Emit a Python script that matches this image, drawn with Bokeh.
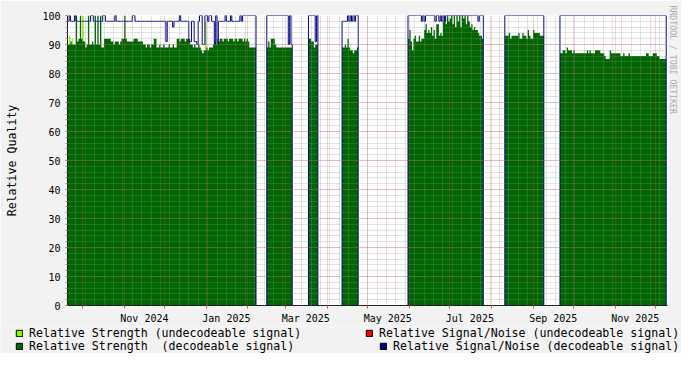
import numpy as np
import pandas as pd
from bokeh.plotting import figure
from bokeh.layouts import column
from bokeh.models import (Range1d, FixedTicker, Legend, LegendItem, Title)
from bokeh.embed import file_html
from bokeh.resources import INLINE

# ---------------- data (daily values) ----------------
SEGMENT_STARTS = ["2024-09-20", "2025-02-15", "2025-03-18", "2025-04-12",
                  "2025-05-31", "2025-08-11", "2025-09-21"]

STRENGTH_1 = [90, 90, 91, 90, 90, 90, 100, 91, 92, 100,
              92, 91, 91, 89, 90, 100, 90, 90, 91, 90,
              100, 90, 100, 90, 100, 89, 89, 92, 92, 92,
              92, 92, 91, 91, 90, 91, 91, 91, 90, 91,
              92, 92, 100, 92, 91, 91, 91, 91, 91, 92,
              92, 92, 91, 91, 91, 91, 90, 90, 89, 90,
              90, 89, 90, 90, 92, 92, 89, 89, 90, 89,
              89, 90, 89, 89, 89, 90, 89, 89, 90, 89,
              89, 92, 92, 91, 92, 92, 92, 91, 92, 92,
              92, 90, 90, 89, 90, 89, 89, 90, 89, 88,
              87, 88, 88, 89, 88, 89, 89, 89, 90, 91,
              90, 92, 91, 92, 92, 91, 92, 92, 92, 91,
              92, 92, 92, 91, 92, 92, 91, 92, 92, 92,
              91, 92, 91, 92, 91, 89, 89, 89, 89, 89]
SNR_1 = [98, 100, 98, 98, 98, 100, 98, 98, 98, 98,
         98, 98, 98, 98, 98, 98, 98, 100, 100, 98,
         98, 98, 98, 98, 98, 98, 100, 100, 98, 98,
         98, 98, 98, 98, 98, 100, 98, 98, 98, 98,
         98, 98, 98, 98, 98, 98, 98, 98, 100, 100,
         98, 98, 98, 98, 98, 98, 98, 98, 98, 98,
         98, 98, 98, 98, 98, 98, 98, 98, 98, 98,
         98, 98, 98, 91, 98, 98, 98, 98, 96, 98,
         98, 98, 98, 100, 98, 98, 98, 98, 98, 98,
         91, 91, 98, 98, 91, 91, 90, 98, 100, 100,
         90, 90, 100, 100, 98, 100, 100, 98, 98, 90,
         100, 90, 98, 98, 98, 98, 98, 100, 98, 98,
         98, 100, 98, 98, 98, 98, 98, 98, 100, 98,
         100, 100, 100, 100, 100, 100, 100, 100, 100, 100]

STRENGTH_2 = [89, 91, 89, 92, 92, 92, 90, 89, 89, 89,
              89, 89, 89, 89, 89, 89, 89, 89, 89]
SNR_2 = [100, 100, 100, 100, 100, 100, 100, 100, 100, 100,
         100, 100, 100, 100, 100, 100, 90, 100, 90]

STRENGTH_3 = [92, 92, 91, 91, 89, 90, 90]
SNR_3 = [100, 100, 100, 100, 100, 91, 100]

STRENGTH_4 = [89, 89, 90, 89, 92, 89, 88, 88, 87, 88, 88, 89]
SNR_4 = [98, 98, 98, 98, 100, 98, 100, 98, 100, 98, 100, 100]

STRENGTH_5 = [92, 95, 91, 88, 92, 93, 91, 91, 93, 91,
              92, 92, 95, 97, 94, 95, 94, 96, 93, 95,
              92, 97, 97, 93, 94, 93, 98, 100, 97, 100,
              98, 99, 100, 97, 100, 96, 100, 98, 100, 96,
              100, 99, 100, 97, 100, 98, 96, 97, 95, 96,
              95, 95, 94, 93, 93, 92]
SNR_5 = [100, 100, 100, 100, 100, 100, 100, 100, 100, 100,
         98, 100, 98, 100, 100, 100, 100, 100, 100, 100,
         98, 100, 100, 98, 100, 98, 100, 98, 100, 100,
         100, 100, 100, 100, 100, 100, 100, 100, 100, 100,
         100, 100, 100, 100, 100, 100, 100, 100, 100, 100,
         100, 100, 98, 100, 100, 100]

STRENGTH_6 = [93, 93, 93, 94, 92, 93, 93, 93, 93, 93,
              94, 92, 92, 94, 93, 93, 92, 95, 93, 92,
              92, 95, 94, 94, 94, 94, 93, 93, 93]
SNR_6 = [100, 100, 100, 100, 100, 100, 100, 100, 100, 100,
         100, 100, 100, 100, 100, 100, 100, 100, 100, 100,
         100, 100, 100, 100, 100, 100, 100, 100, 100]

STRENGTH_7 = [87, 87, 88, 88, 87, 89, 88, 88, 88, 87,
              88, 87, 87, 87, 87, 87, 87, 87, 87, 87,
              88, 87, 88, 87, 87, 87, 88, 88, 88, 88,
              87, 87, 87, 86, 85, 85, 85, 88, 87, 87,
              87, 87, 87, 87, 87, 86, 86, 87, 86, 86,
              86, 87, 86, 86, 86, 86, 86, 86, 86, 86,
              86, 86, 86, 86, 87, 87, 86, 86, 86, 87,
              87, 87, 86, 86, 85, 85, 85, 85, 85]
SNR_7 = [100, 100, 100, 100, 100, 100, 100, 100, 100, 100,
         100, 100, 100, 100, 100, 100, 100, 100, 100, 100,
         100, 100, 100, 100, 100, 100, 100, 100, 100, 100,
         100, 100, 100, 100, 100, 100, 100, 100, 100, 100,
         100, 100, 100, 100, 100, 100, 100, 100, 100, 100,
         100, 100, 100, 100, 100, 100, 100, 100, 100, 100,
         100, 100, 100, 100, 100, 100, 100, 100, 100, 100,
         100, 100, 100, 100, 100, 100, 100, 100, 100]

UNDECODEABLE_DATES = ["2024-09-21", "2024-09-23", "2024-10-01", "2024-12-31"]
UNDECODEABLE_STRENGTH = [93, 92, 100, 98]

TICK_MONTHS = ["2024-11-01", "2025-01-01", "2025-03-01", "2025-05-01",
               "2025-07-01", "2025-09-01", "2025-11-01"]
TICK_LABELS = ["Nov 2024", "Jan 2025", "Mar 2025", "May 2025",
               "Jul 2025", "Sep 2025", "Nov 2025"]
Y_TICKS = [0, 10, 20, 30, 40, 50, 60, 70, 80, 90, 100]

LEGEND_LABELS = ["Relative Strength (undecodeable signal)",
                 "Relative Signal/Noise (undecodeable signal)",
                 "Relative Strength  (decodeable signal)",
                 "Relative Signal/Noise (decodeable signal)"]

X_START = "2024-09-19 20:00"
X_END = "2025-12-09 23:00"

# ---------------- colours ----------------
LIME = "#80FF00"
RED = "#FF0000"
GREEN = "#006600"
NAVY = "#000088"
GRID = "#8F8F8F"
MGRID = "#DE4F4F"
AXIS = "#1F1F1F"
BACK = "#F2F2F2"
FONT = "DejaVu Sans Mono"

# ---------------- build daily series ----------------
STRENGTH = [STRENGTH_1, STRENGTH_2, STRENGTH_3, STRENGTH_4, STRENGTH_5, STRENGTH_6, STRENGTH_7]
SNR = [SNR_1, SNR_2, SNR_3, SNR_4, SNR_5, SNR_6, SNR_7]

day0 = pd.Timestamp(SEGMENT_STARTS[0])
last = pd.Timestamp(SEGMENT_STARTS[-1]) + pd.Timedelta(days=len(STRENGTH[-1]))
days = pd.date_range(day0, last, freq="D")
strength = np.zeros(len(days))
snr = np.zeros(len(days))
for start, s, n in zip(SEGMENT_STARTS, STRENGTH, SNR):
    i = (pd.Timestamp(start) - day0).days
    strength[i:i + len(s)] = s
    snr[i:i + len(n)] = n

W = 681
p = figure(width=W, height=326, x_axis_type="datetime",
           x_range=Range1d(pd.Timestamp(X_START), pd.Timestamp(X_END)),
           y_range=Range1d(0, 100),
           output_backend="svg", toolbar_location=None,
           min_border_left=67, min_border_right=14, min_border_top=15,
           min_border_bottom=16,
           background_fill_color="white", border_fill_color=BACK,
           outline_line_color=None)

# undecodeable strength spikes (drawn first, green covers the lower part)
und_x = pd.to_datetime(UNDECODEABLE_DATES) + pd.Timedelta(hours=12)
p.vbar(x=und_x, top=UNDECODEABLE_STRENGTH, width=86400000, bottom=0,
       fill_color=LIME, line_color=None)

p.varea_step(x=days, y1=np.zeros(len(days)), y2=strength, step_mode="after",
             fill_color=GREEN)
p.step(x=days, y=snr, mode="after", line_color=NAVY, line_width=1)

# ---------------- grids ----------------
month_ms = [t.value / 1e6 for t in pd.date_range("2024-10-01", "2025-12-01", freq="MS")]
week_ms = [t.value / 1e6 for t in pd.date_range("2024-09-26", "2025-12-04", freq="7D")]
tick_ms = [(pd.Timestamp(m) + pd.Timedelta(days=15)).value / 1e6 for m in TICK_MONTHS]
y_minor = list(range(0, 101, 2))

p.xgrid.ticker = FixedTicker(ticks=month_ms, minor_ticks=week_ms)
p.ygrid.ticker = FixedTicker(ticks=Y_TICKS, minor_ticks=y_minor)
for g in (p.xgrid[0], p.ygrid[0]):
    g.grid_line_color = MGRID
    g.grid_line_alpha = 0.5
    g.grid_line_dash = "1 1"
    g.minor_grid_line_color = GRID
    g.minor_grid_line_alpha = 0.5
    g.minor_grid_line_dash = "1 1"
    g.level = "annotation"

# ---------------- axes ----------------
xa = p.xaxis[0]
xa.ticker = FixedTicker(ticks=tick_ms, minor_ticks=month_ms)
xa.major_label_overrides = {t: lab for t, lab in zip(tick_ms, TICK_LABELS)}
xa.major_tick_line_color = None
xa.major_tick_out = 0
xa.major_tick_in = 0
xa.minor_tick_line_color = MGRID
xa.minor_tick_out = 3
xa.minor_tick_in = 0
xa.major_label_standoff = 4

ya = p.yaxis[0]
ya.ticker = FixedTicker(ticks=Y_TICKS, minor_ticks=y_minor)
ya.major_tick_line_color = MGRID
ya.major_tick_out = 2
ya.major_tick_in = 0
ya.minor_tick_line_color = GRID
ya.minor_tick_out = 2
ya.minor_tick_in = 0
ya.major_label_standoff = 5
ya.axis_label = "Relative Quality"
ya.axis_label_text_font = FONT
ya.axis_label_text_font_size = "11.6px"
ya.axis_label_text_font_style = "normal"
ya.axis_label_text_color = "black"
ya.axis_label_standoff = 20

for ax in (xa, ya):
    ax.axis_line_color = AXIS
    ax.major_label_text_font = FONT
    ax.major_label_text_font_size = "10px"
    ax.major_label_text_color = "black"

p.add_layout(Title(text="RRDTOOL / TOBI OETIKER", align="left", offset=-10,
                   standoff=0, text_font=FONT, text_font_size="8.2px",
                   text_font_style="normal", text_color="#ABABAB"), "right")

# ---------------- legend (own strip below the chart) ----------------
leg = figure(width=W, height=27, output_backend="svg", toolbar_location=None,
             x_range=Range1d(0, 1), y_range=Range1d(0, 1),
             min_border=0, background_fill_color=BACK, border_fill_color=BACK,
             outline_line_color=None)
leg.frame_align = False
leg.axis.visible = False
leg.grid.visible = False
swatch_colors = [LIME, RED, GREEN, NAVY]
# swatch glyphs sit outside the visible ranges; only their legend squares show
swatches = [leg.quad(left=[2], right=[3], top=[3], bottom=[2], fill_color=c,
                     line_color="black", line_width=1) for c in swatch_colors]
locations = [(15, 13.5), (365, 13.5), (15, 0), (379, 0)]
for lab, r, loc in zip(LEGEND_LABELS, swatches, locations):
    lg = Legend(items=[LegendItem(label=lab, renderers=[r])], location=loc,
                padding=0, margin=0, spacing=0, glyph_width=8, glyph_height=8,
                label_standoff=6, label_text_font=FONT, label_text_font_size="11.6px",
                label_text_color="black", background_fill_alpha=0,
                border_line_color=None, label_height=8)
    leg.add_layout(lg, "center")

layout = column(p, leg, spacing=0)
open("out.html", "w").write(file_html(layout, INLINE))
